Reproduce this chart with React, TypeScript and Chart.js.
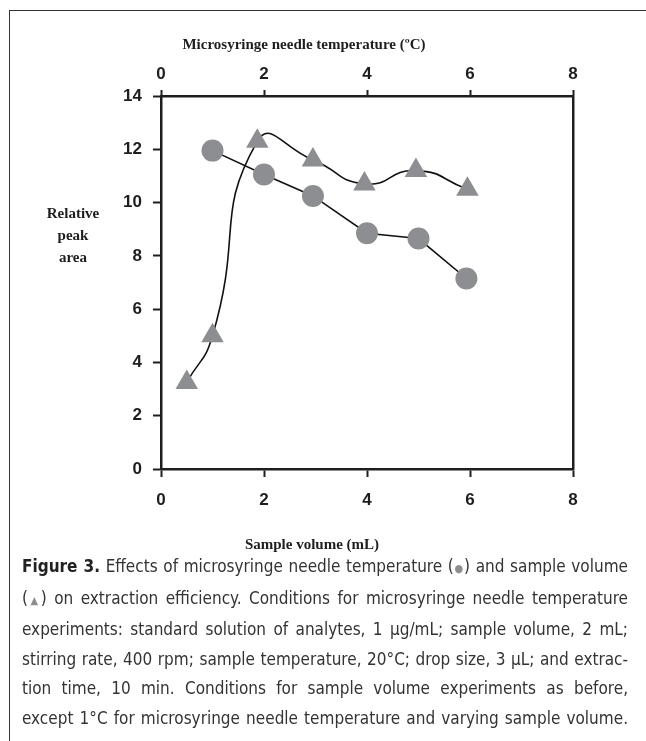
import React, { useEffect, useRef } from "react";
import { Chart, registerables } from "chart.js";

Chart.register(...registerables);

// Needle temperature (top axis, °C) vs relative peak area — circles
const tempX = [1, 2, 2.95, 4, 5, 5.93];
const tempY = [11.95, 11.05, 10.25, 8.85, 8.65, 7.15];

// Sample volume (bottom axis, mL) vs relative peak area — triangles
const volX = [0.5, 1.0, 1.87, 2.95, 3.95, 4.95, 5.95];
const volY = [3.25, 5.0, 12.3, 11.6, 10.7, 11.2, 10.5];

const xTicks = [0, 2, 4, 6, 8];
const yTicks = [0, 2, 4, 6, 8, 10, 12, 14];

const topTitle = "Microsyringe needle temperature (ºC)";
const bottomTitle = "Sample volume (mL)";
const yTitleLines = ["Relative", "peak", "area"];

const dot = { color: "#8d8e91", fontSize: "11px" };

const captionLines: React.ReactNode[] = [
  <><b style={{ color: "#222" }}>Figure 3.</b> Effects of microsyringe needle temperature (<span style={dot}>●</span>) and sample volume</>,
  <>(<span style={dot}>▲</span>) on extraction efficiency. Conditions for microsyringe needle temperature</>,
  <>experiments: standard solution of analytes, 1 µg/mL; sample volume, 2 mL;</>,
  <>stirring rate, 400 rpm; sample temperature, 20°C; drop size, 3 µL; and extrac-</>,
  <>tion time, 10 min. Conditions for sample volume experiments as before,</>,
  <>except 1°C for microsyringe needle temperature and varying sample volume.</>,
];

const GRAY = "#8d8e91";
const AXIS = "#1e1e1e";

export default function App() {
  const ref = useRef<HTMLCanvasElement | null>(null);

  useEffect(() => {
    if (!ref.current) return;
    const tickFont = { family: '"Liberation Sans", Arial, sans-serif', size: 17, weight: "bold" as const };

    const titlePlugin = {
      id: "titles",
      afterDraw(chart: any) {
        const ca = chart.chartArea;
        const ctx = chart.ctx;
        ctx.save();
        ctx.fillStyle = "#1e1e1e";
        ctx.font = 'bold 15px "Liberation Serif", serif';
        ctx.textAlign = "center";
        ctx.textBaseline = "middle";
        ctx.fillText(topTitle, ca.left + 143, ca.top - 51);
        ctx.fillText(bottomTitle, ca.left + 151, ca.bottom + 76);
        yTitleLines.forEach((l, i) => {
          ctx.fillText(l, ca.left - 88, ca.top + 118 + i * 22);
        });
        ctx.restore();
      },
    };

    const chart = new Chart(ref.current, {
      type: "scatter",
      data: {
        datasets: [
          {
            label: "Needle temperature",
            data: tempX.map((x, i) => ({ x, y: tempY[i] })),
            xAxisID: "x2",
            yAxisID: "y",
            showLine: true,
            borderColor: "#111",
            borderWidth: 1.6,
            pointStyle: "circle",
            pointRadius: 11,
            pointBackgroundColor: GRAY,
            pointBorderColor: GRAY,
            pointBorderWidth: 0,
            tension: 0,
          },
          {
            label: "Sample volume",
            data: volX.map((x, i) => ({ x, y: volY[i] })),
            xAxisID: "x",
            yAxisID: "y",
            showLine: true,
            borderColor: "#111",
            borderWidth: 1.6,
            pointStyle: "triangle",
            pointRadius: 13,
            pointBackgroundColor: GRAY,
            pointBorderColor: GRAY,
            pointBorderWidth: 0,
            tension: 0.55,
          },
        ],
      },
      options: {
        responsive: false,
        animation: false,
        layout: { padding: { left: 0, right: 73, top: 0, bottom: 0 } },
        plugins: { legend: { display: false }, tooltip: { enabled: false } },
        scales: {
          x: {
            type: "linear",
            position: "bottom",
            min: 0,
            max: 8,
            afterBuildTicks: (s: any) => { s.ticks = xTicks.map((v) => ({ value: v })); },
            ticks: { color: "#1e1e1e", font: tickFont, padding: 13 },
            grid: { drawOnChartArea: false, tickLength: 8, tickWidth: 2, tickColor: AXIS },
            border: { color: AXIS, width: 2.5 },
            afterFit: (s: any) => { s.height = 91; },
          },
          x2: {
            type: "linear",
            position: "top",
            min: 0,
            max: 8,
            afterBuildTicks: (s: any) => { s.ticks = xTicks.map((v) => ({ value: v })); },
            ticks: { color: "#1e1e1e", font: tickFont, padding: 5 },
            grid: { drawOnChartArea: false, tickLength: 6, tickWidth: 2, tickColor: AXIS },
            border: { color: AXIS, width: 2.5 },
            afterFit: (s: any) => { s.height = 96; },
          },
          y: {
            type: "linear",
            position: "left",
            min: 0,
            max: 14,
            afterBuildTicks: (s: any) => { s.ticks = yTicks.map((v) => ({ value: v })); },
            ticks: { color: "#1e1e1e", font: tickFont, padding: 11 },
            grid: { drawOnChartArea: false, tickLength: 8, tickWidth: 2, tickColor: AXIS },
            border: { color: AXIS, width: 2.5 },
            afterFit: (s: any) => { s.width = 161; },
          },
          y2: {
            type: "linear",
            position: "right",
            min: 0,
            max: 14,
            ticks: { display: false },
            grid: { display: false },
            border: { display: true, color: AXIS, width: 2.5 },
            afterFit: (s: any) => { s.width = 0; },
          },
        },
      },
      plugins: [titlePlugin],
    } as any);

    return () => chart.destroy();
  }, []);

  return (
    <div>
      <div
        style={{
          position: "absolute",
          left: 9,
          top: 10,
          width: 700,
          height: 800,
          borderLeft: "1.5px solid #333",
          borderTop: "1.5px solid #333",
        }}
      />
      <canvas
        ref={ref}
        width={646}
        height={560}
        style={{ position: "absolute", left: 0, top: 0, width: 646, height: 560 }}
      />
      <div
        style={{
          position: "absolute",
          left: 22,
          top: 552,
          width: 606,
          fontFamily: '"DejaVu Sans Condensed", "Liberation Sans Narrow", sans-serif',
          fontSize: "17px",
          lineHeight: "29.5px",
          color: "#333",
        }}
      >
        {captionLines.map((l, i) => (
          <div key={i} style={{ textAlign: "justify", textAlignLast: "justify", whiteSpace: "nowrap" }}>
            {l}
          </div>
        ))}
      </div>
    </div>
  );
}
